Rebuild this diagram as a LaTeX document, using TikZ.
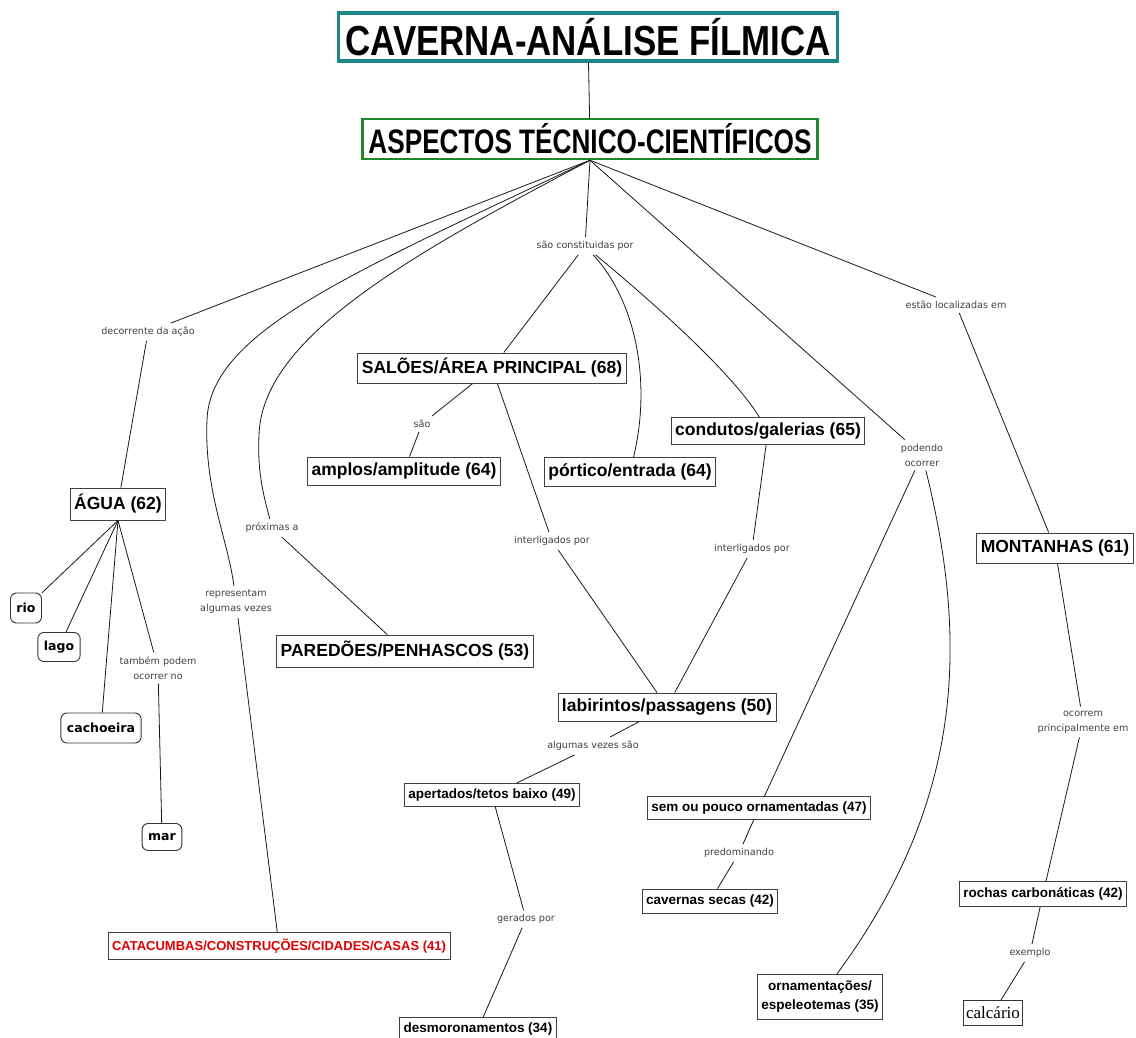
\documentclass[tikz,border=0pt]{standalone}
\usepackage{fontspec}
\setmainfont{Liberation Sans}
\newfontfamily\titlefont[FakeStretch=0.83]{Liberation Sans}
\newfontfamily\aspfont[FakeStretch=0.77]{Liberation Sans}
\newfontfamily\relfont{DejaVu Sans}
\newfontfamily\leaffont{DejaVu Sans}
\newfontfamily\serifont{Liberation Serif}
\usetikzlibrary{positioning}

\definecolor{tealbox}{RGB}{30,135,135}
\definecolor{greenbox}{RGB}{30,135,45}
\definecolor{redtext}{RGB}{225,0,0}

\begin{document}
\begin{tikzpicture}[x=1pt, y=-1pt,
  concept/.style={draw=black!75, line width=0.9pt, fill=white, inner xsep=4pt, inner ysep=0pt, minimum height=30pt, font=\bfseries\fontsize{17.5}{20}\selectfont},
  minor/.style={concept, minimum height=23pt, font=\bfseries\fontsize{13.5}{19}\selectfont},
  leaf/.style={draw=black!80, line width=0.9pt, rounded corners=6pt, inner xsep=6pt, inner ysep=0pt, minimum height=29pt, font=\leaffont\bfseries\fontsize{12.5}{14}\selectfont},
  rel/.style={inner sep=4pt, align=center, text=black!75, font=\relfont\fontsize{9.6}{15}\selectfont},
  link/.style={draw=black!90, line width=0.8pt}]
\useasboundingbox (0,0) rectangle (1136,1038);

% titulo
\node[draw=tealbox, line width=3.5pt, inner xsep=7pt, minimum height=48pt, font=\titlefont\bfseries\fontsize{42}{46}\selectfont] (title) at (588,37) {CAVERNA-ANÁLISE FÍLMICA};
\node[draw=greenbox, line width=2.5pt, inner xsep=6pt, minimum height=40pt, font=\aspfont\bfseries\fontsize{34}{38}\selectfont] (aspectos) at (590,139) {ASPECTOS TÉCNICO-CIENTÍFICOS};

% conceitos
\node[concept] (saloes) at (492,368) {SALÕES/ÁREA PRINCIPAL (68)};
\node[concept, minimum height=28pt] (amplos) at (404,471) {amplos/amplitude (64)};
\node[concept, minimum height=29pt] (portico) at (630,472) {pórtico/entrada (64)};
\node[concept, minimum height=27pt] (condutos) at (768,431) {condutos/galerias (65)};
\node[concept, minimum height=32pt] (agua) at (118,504) {ÁGUA (62)};
\node[concept, minimum height=32pt] (paredoes) at (405,651) {PAREDÕES/PENHASCOS (53)};
\node[concept, minimum height=28pt] (labirintos) at (667,707) {labirintos/passagens (50)};
\node[concept] (montanhas) at (1055,548) {MONTANHAS (61)};
\node[minor, text=redtext, minimum height=27pt, font=\bfseries\fontsize{13}{15}\selectfont] (catacumbas) at (279,946) {CATACUMBAS/CONSTRUÇÕES/CIDADES/CASAS (41)};
\node[minor] (apertados) at (492,795) {apertados/tetos baixo (49)};
\node[minor] (sempouco) at (759,808) {sem ou pouco ornamentadas (47)};
\node[minor, minimum height=24pt] (cavernas) at (710,901) {cavernas secas (42)};
\node[minor, align=center, minimum height=45pt] (ornamentacoes) at (820,997) {ornamentações/\\espeleotemas (35)};
\node[minor] (desmoronamentos) at (478,1029) {desmoronamentos (34)};
\node[minor, minimum height=25pt] (rochas) at (1043,894) {rochas carbonáticas (42)};
\node[draw=black!80, line width=0.8pt, inner xsep=2.5pt, minimum height=25pt, font=\serifont\fontsize{17}{19}\selectfont] (calcario) at (993,1013) {calcário};

% exemplos de agua
\node[leaf, minimum height=30pt] (rio) at (26,608) {rio};
\node[leaf] (lago) at (59,647) {lago};
\node[leaf, minimum height=30pt] (cachoeira) at (101,728) {cachoeira};
\node[leaf, minimum height=27pt] (mar) at (162,837) {mar};

% frases de ligacao
\node[rel] (decorrente) at (148,332) {decorrente da ação};
\node[rel] (constituidas) at (585,246) {são constituidas por};
\node[rel] (localizadas) at (956,305) {estão localizadas em};
\node[rel] (sao) at (422,424) {são};
\node[rel] (proximas) at (272,528) {próximas a};
\node[rel] (representam) at (236,602) {representam\\algumas vezes};
\node[rel] (interlA) at (552,541) {interligados por};
\node[rel] (interlB) at (752,549) {interligados por};
\node[rel] (tambem) at (158,668) {também podem\\ocorrer no};
\node[rel] (podendo) at (922,455) {podendo\\ocorrer};
\node[rel] (algumas) at (593,746) {algumas vezes são};
\node[rel] (predominando) at (739,853) {predominando};
\node[rel] (gerados) at (526,919) {gerados por};
\node[rel] (ocorrem) at (1083,722) {ocorrem\\principalmente em};
\node[rel] (exemplo) at (1030,953) {exemplo};

% ligacoes
\draw[link] (title) -- (aspectos);
\draw[link] (aspectos.south) -- (decorrente);
\draw[link] (decorrente) -- (agua);
\draw[link] (agua.south) -- (rio);
\draw[link] (agua.south) -- (lago);
\draw[link] (agua.south) -- (cachoeira);
\draw[link] (agua.south) -- (tambem);
\draw[link] (tambem) -- (mar);
\draw[link] (aspectos.south) .. controls (360,270) and (210,330) .. (207,420) .. controls (204,490) and (228,540) .. (representam);
\draw[link] (representam) -- (catacumbas);
\draw[link] (aspectos.south) .. controls (400,260) and (262,340) .. (259,435) .. controls (257,475) and (265,500) .. (proximas);
\draw[link] (proximas) -- (paredoes);
\draw[link] (aspectos.south) -- (constituidas);
\draw[link] (constituidas) -- (saloes);
\draw[link] (constituidas) .. controls (635,300) and (652,380) .. (portico);
\draw[link] (constituidas) .. controls (650,300) and (730,370) .. (condutos);
\draw[link] (saloes) -- (sao);
\draw[link] (sao) -- (amplos);
\draw[link] (saloes) -- (interlA);
\draw[link] (interlA) -- (labirintos);
\draw[link] (condutos) -- (interlB);
\draw[link] (interlB) -- (labirintos);
\draw[link] (labirintos) -- (algumas);
\draw[link] (algumas) -- (apertados);
\draw[link] (apertados) -- (gerados);
\draw[link] (gerados) -- (desmoronamentos);
\draw[link] (aspectos.south) -- (podendo);
\draw[link] (podendo) -- (sempouco);
\draw[link] (podendo) .. controls (968,640) and (965,800) .. (ornamentacoes);
\draw[link] (sempouco) -- (predominando);
\draw[link] (predominando) -- (cavernas);
\draw[link] (aspectos.south) -- (localizadas);
\draw[link] (localizadas) -- (montanhas);
\draw[link] (montanhas) -- (ocorrem);
\draw[link] (ocorrem) -- (rochas);
\draw[link] (rochas) -- (exemplo);
\draw[link] (exemplo) -- (calcario);
\end{tikzpicture}
\end{document}
